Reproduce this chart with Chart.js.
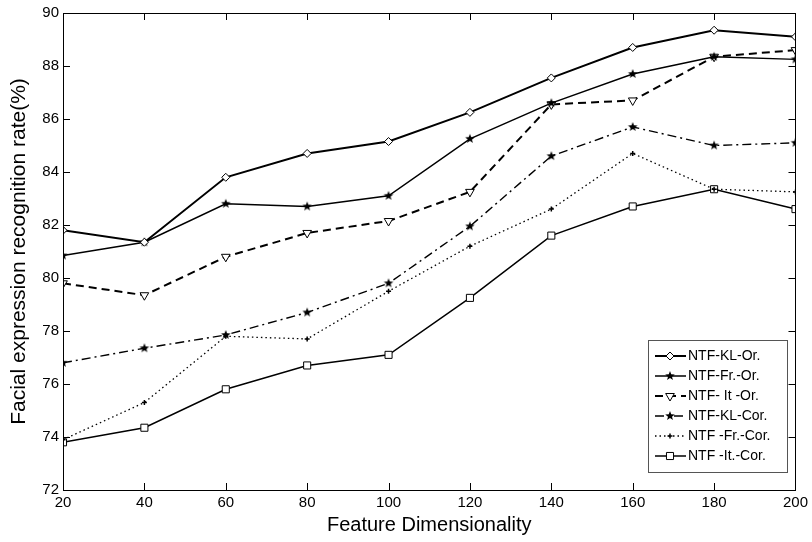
<!DOCTYPE html>
<html>
<head>
<meta charset="utf-8">
<script src="https://cdn.jsdelivr.net/npm/chart.js@4.4.1/dist/chart.umd.min.js"></script>
<style>
  body { margin: 0; background: #fff; }
  canvas { display: block; }
</style>
</head>
<body>
<canvas id="lineChart" width="812" height="542"></canvas>
<script>
// data
const dims = [20, 40, 60, 80, 100, 120, 140, 160, 180, 200];
const klOr  = [81.8, 81.35, 83.8, 84.7, 85.15, 86.25, 87.55, 88.7, 89.35, 89.1];
const frOr  = [80.85, 81.35, 82.8, 82.7, 83.1, 85.25, 86.6, 87.7, 88.35, 88.25];
const itOr  = [79.8, 79.35, 80.8, 81.7, 82.15, 83.25, 86.55, 86.7, 88.35, 88.6];
const klCor = [76.8, 77.35, 77.85, 78.7, 79.8, 81.95, 84.6, 85.7, 85.0, 85.1];
const frCor = [73.9, 75.3, 77.8, 77.7, 79.5, 81.2, 82.6, 84.7, 83.35, 83.25];
const itCor = [73.8, 74.35, 75.8, 76.7, 77.1, 79.25, 81.6, 82.7, 83.35, 82.6];
const labels = ['NTF-KL-Or.', 'NTF-Fr.-Or.', 'NTF- It -Or.', 'NTF-KL-Cor.', 'NTF -Fr.-Cor.', 'NTF -It.-Cor.'];
const yTicks = [72, 74, 76, 78, 80, 82, 84, 86, 88, 90];

const tickFont = "'Liberation Sans Narrow', 'Liberation Sans', Arial, sans-serif";

// filled five point star used as a marker
function makeStar(r) {
  const c = document.createElement('canvas');
  c.width = c.height = r * 2 + 2;
  const g = c.getContext('2d');
  g.beginPath();
  for (let i = 0; i < 10; i++) {
    const rad = i % 2 ? r * 0.42 : r;
    const a = -Math.PI / 2 + i * Math.PI / 5;
    g.lineTo(r + 1 + rad * Math.cos(a), r + 1 + rad * Math.sin(a));
  }
  g.closePath();
  g.fillStyle = '#000';
  g.fill();
  return c;
}
const star = makeStar(5);

function pts(arr) {
  return dims.map((d, i) => ({ x: d, y: arr[i] }));
}

const datasets = [
  { label: labels[0], data: pts(klOr), borderWidth: 2, borderDash: [],
    pointStyle: 'rectRot', pointRadius: 4, pointBackgroundColor: '#fff' },
  { label: labels[1], data: pts(frOr), borderWidth: 1.5, borderDash: [],
    pointStyle: star, pointRadius: 5 },
  { label: labels[2], data: pts(itOr), borderWidth: 2, borderDash: [8, 5],
    pointStyle: 'triangle', pointRotation: 180, pointRadius: 5, pointBackgroundColor: '#fff' },
  { label: labels[3], data: pts(klCor), borderWidth: 1.4, borderDash: [9, 4, 2, 4],
    pointStyle: star, pointRadius: 5 },
  { label: labels[4], data: pts(frCor), borderWidth: 1.3, borderDash: [1.5, 3],
    pointStyle: 'cross', pointRadius: 2.5, pointBorderWidth: 1.5 },
  { label: labels[5], data: pts(itCor), borderWidth: 1.5, borderDash: [],
    pointStyle: 'rect', pointRadius: 5, pointBackgroundColor: '#fff' }
].map(d => Object.assign({
  borderColor: '#000',
  pointBorderColor: '#000',
  pointBackgroundColor: '#000',
  pointBorderWidth: 1,
  tension: 0,
  fill: false
}, d));

// box round the plot with matlab style inward ticks
const boxTicks = {
  id: 'boxTicks',
  afterDraw(chart) {
    const { ctx, chartArea: a, scales } = chart;
    const len = 7;
    ctx.save();
    ctx.strokeStyle = '#000';
    ctx.lineWidth = 1;
    ctx.setLineDash([]);
    ctx.beginPath();
    scales.x.ticks.forEach(t => {
      const px = Math.round(scales.x.getPixelForValue(t.value)) + 0.5;
      ctx.moveTo(px, a.bottom); ctx.lineTo(px, a.bottom - len);
      ctx.moveTo(px, a.top); ctx.lineTo(px, a.top + len);
    });
    scales.y.ticks.forEach(t => {
      const py = Math.round(scales.y.getPixelForValue(t.value)) + 0.5;
      ctx.moveTo(a.left, py); ctx.lineTo(a.left + len, py);
      ctx.moveTo(a.right, py); ctx.lineTo(a.right - len, py);
    });
    ctx.stroke();
    ctx.strokeRect(Math.round(a.left) + 0.5, Math.round(a.top) + 0.5,
      Math.round(a.right - a.left), Math.round(a.bottom - a.top));
    ctx.restore();
  }
};

// legend box in the lower right corner
const boxLegend = {
  id: 'boxLegend',
  afterDraw(chart) {
    const ctx = chart.ctx;
    const bx = 648, by = 340, bw = 139, bh = 132;
    ctx.save();
    ctx.fillStyle = '#fff';
    ctx.fillRect(bx, by, bw, bh);
    ctx.strokeStyle = '#555';
    ctx.lineWidth = 1;
    ctx.strokeRect(bx + 0.5, by + 0.5, bw, bh);
    ctx.font = "14px 'Liberation Sans', Arial, sans-serif";
    ctx.textBaseline = 'middle';
    chart.data.datasets.forEach((ds, i) => {
      const y = by + 16 + i * 20;
      ctx.strokeStyle = '#000';
      ctx.lineWidth = ds.borderWidth;
      ctx.setLineDash(ds.borderDash);
      ctx.beginPath();
      ctx.moveTo(bx + 7, y);
      ctx.lineTo(bx + 38, y);
      ctx.stroke();
      ctx.setLineDash([]);
      ctx.lineWidth = ds.pointBorderWidth;
      ctx.fillStyle = ds.pointBackgroundColor;
      Chart.helpers.drawPoint(ctx, {
        pointStyle: ds.pointStyle, rotation: ds.pointRotation || 0,
        radius: ds.pointRadius, borderWidth: ds.pointBorderWidth
      }, bx + 22, y);
      ctx.fillStyle = '#000';
      ctx.fillText(ds.label, bx + 40, y);
    });
    ctx.restore();
  }
};

const ctx = document.getElementById('lineChart').getContext('2d');
const lineChart = new Chart(ctx, {
  type: 'line',
  data: { datasets: datasets },
  plugins: [boxTicks, boxLegend],
  options: {
    responsive: false,
    animation: false,
    layout: { padding: { top: 10, right: 11, left: 0, bottom: 0 } },
    plugins: {
      legend: { display: false },
      tooltip: { enabled: false }
    },
    scales: {
      x: {
        type: 'linear',
        min: 20,
        max: 200,
        afterFit(s) { s.height = 52; },
        afterBuildTicks(s) { s.ticks = dims.map(v => ({ value: v })); },
        grid: { display: false, drawTicks: false },
        border: { display: false },
        ticks: { color: '#000', padding: 4, font: { family: tickFont, size: 15 } },
        title: {
          display: true, text: 'Feature Dimensionality', color: '#000',
          font: { family: "'Liberation Sans', Arial, sans-serif", size: 20 },
          padding: { top: 0, bottom: 5 }
        }
      },
      y: {
        min: 72,
        max: 90,
        afterFit(s) { s.width = 63; },
        afterBuildTicks(s) { s.ticks = yTicks.map(v => ({ value: v })); },
        grid: { display: false, drawTicks: false },
        border: { display: false },
        ticks: { color: '#000', padding: 4, font: { family: tickFont, size: 15 } },
        title: {
          display: true, text: 'Facial expression recognition rate(%)', color: '#000',
          font: { family: "'Liberation Sans', Arial, sans-serif", size: 21 },
          padding: { top: 7, bottom: 0 }
        }
      }
    }
  }
});
</script>
</body>
</html>
